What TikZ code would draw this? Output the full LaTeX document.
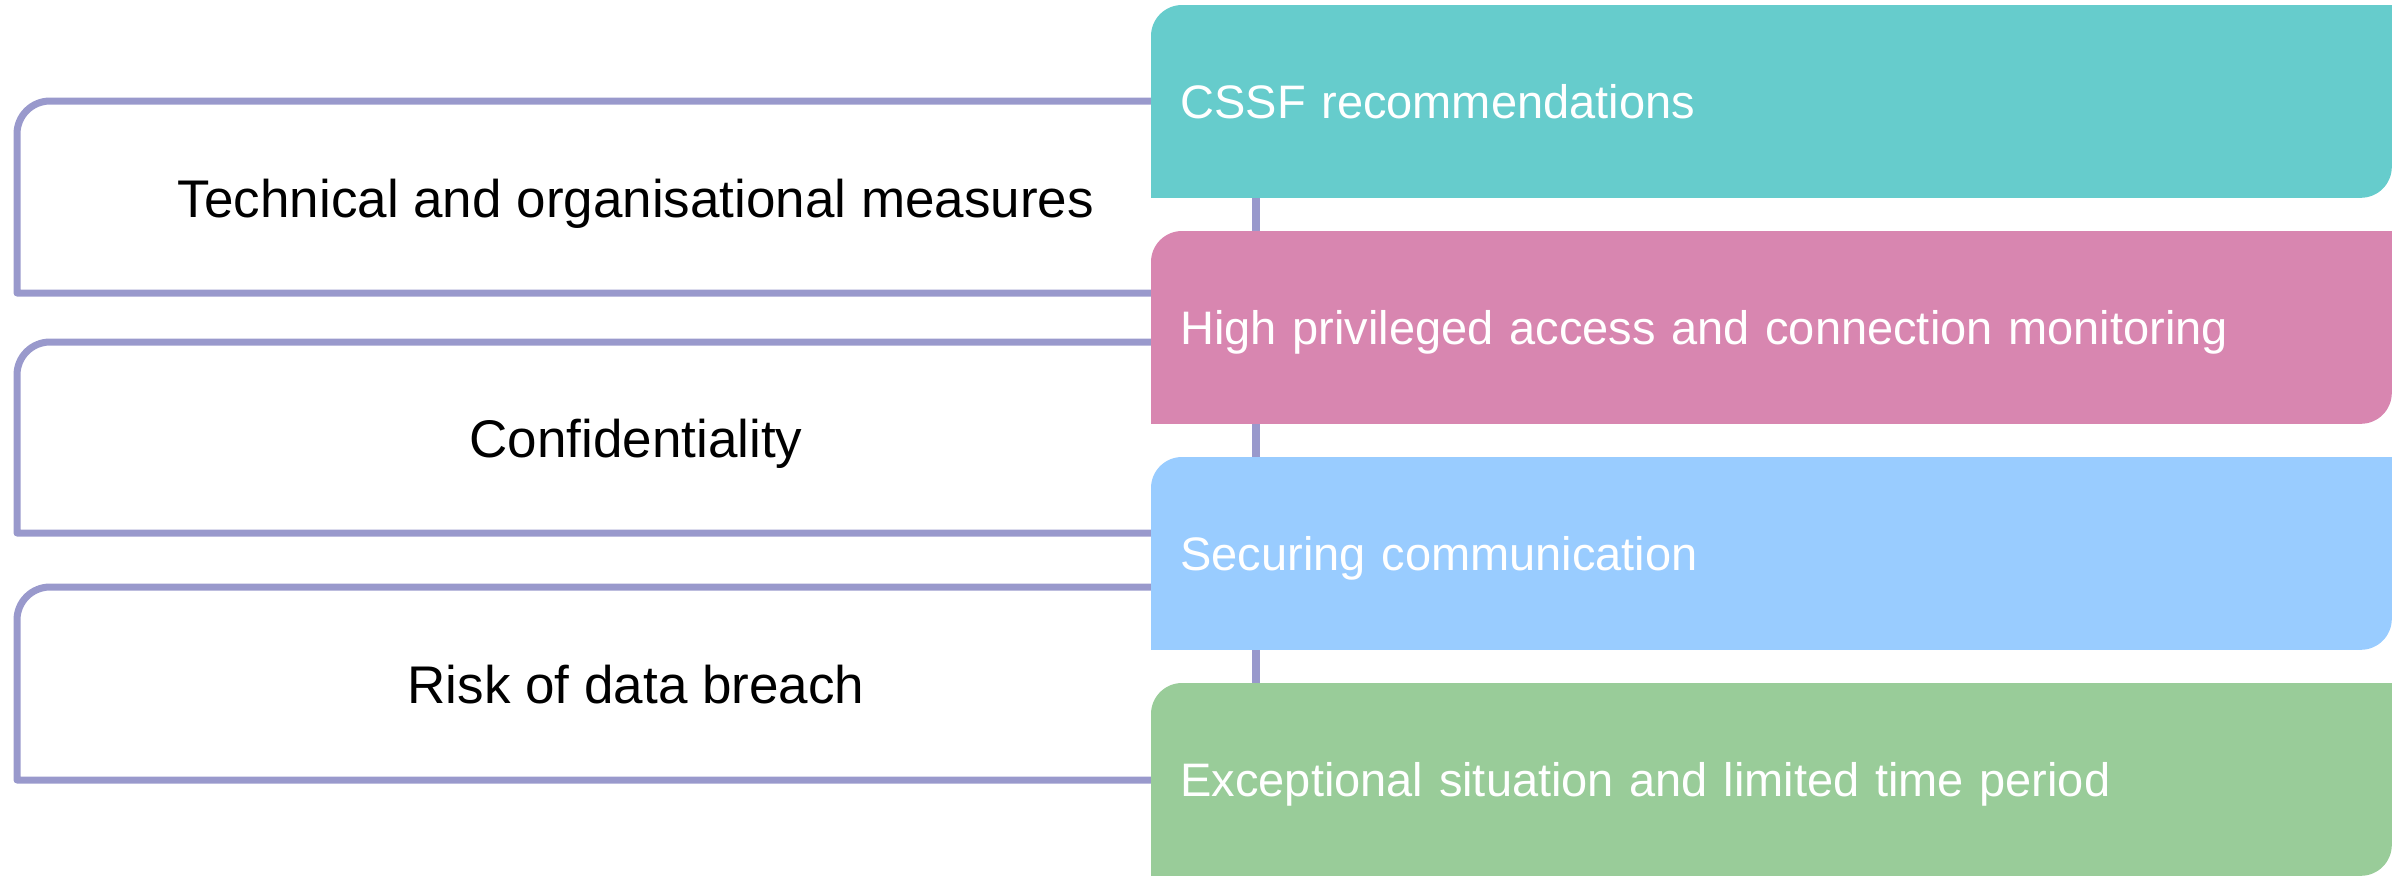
\documentclass[tikz,border=0pt]{standalone}
\usepackage{fontspec}
\setmainfont{Liberation Sans}
\usetikzlibrary{backgrounds}
\definecolor{linec}{HTML}{9999CC}
\definecolor{tealc}{HTML}{66CCCC}
\definecolor{pinkc}{HTML}{D886B0}
\definecolor{bluec}{HTML}{99CCFF}
\definecolor{greenc}{HTML}{99CC99}
\begin{document}
\begin{tikzpicture}[x=0.5pt,y=0.5pt,
  bracketline/.style={draw=linec,line width=3.5pt,line join=round},
  vline/.style={draw=linec,line width=4pt},
  itembox/.style={rectangle,anchor=north west,minimum height=96pt,text width=591pt,
    inner xsep=14.5pt,inner ysep=0pt,align=left,text=white,
    text height=17.5pt,text depth=0pt,
    font=\fontsize{23.5}{28}\selectfont},
  lefttext/.style={font=\fontsize{26.5}{32}\selectfont,text=black,inner sep=0pt,
    text height=20pt,text depth=0pt}]
\useasboundingbox (0,0) rectangle (2405,-875);
\node[itembox] (b1) at (1151,-5) {CSSF recommendations};
\node[itembox] (b2) at (1151,-231) {High privileged access and connection monitoring};
\node[itembox] (b3) at (1151,-457) {Securing communication};
\node[itembox] (b4) at (1151,-683) {Exceptional situation and limited time period};
\node[lefttext] (l1) at (636,-197) {Technical and organisational measures};
\node[lefttext] (l2) at (636,-437) {Confidentiality};
\node[lefttext] (l3) at (636,-683) {Risk of data breach};
\coordinate (vx) at (1256,0);
\begin{pgfonlayer}{background}
  \draw[vline] (b1.center -| vx) -- (b4.center -| vx);
  \draw[bracketline] (b1.west |- 0,-101) -- (50,-101) arc[start angle=90,end angle=180,radius=16.5pt] -- (17,-293) -- (b2.west |- 0,-293);
  \draw[bracketline] (b2.west |- 0,-342) -- (50,-342) arc[start angle=90,end angle=180,radius=16.5pt] -- (17,-533) -- (b3.west |- 0,-533);
  \draw[bracketline] (b3.west |- 0,-587) -- (50,-587) arc[start angle=90,end angle=180,radius=16.5pt] -- (17,-780) -- (b4.west |- 0,-780);
  \foreach \b/\c in {b1/tealc,b2/pinkc,b3/bluec,b4/greenc}{
    \fill[\c] (\b.south west) -- ([yshift=-15.5pt]\b.north west)
      arc[start angle=180,end angle=90,radius=15.5pt] -- (\b.north east)
      -- ([yshift=15.5pt]\b.south east)
      arc[start angle=0,end angle=-90,radius=15.5pt] -- cycle;
  }
\end{pgfonlayer}
\end{tikzpicture}
\end{document}
